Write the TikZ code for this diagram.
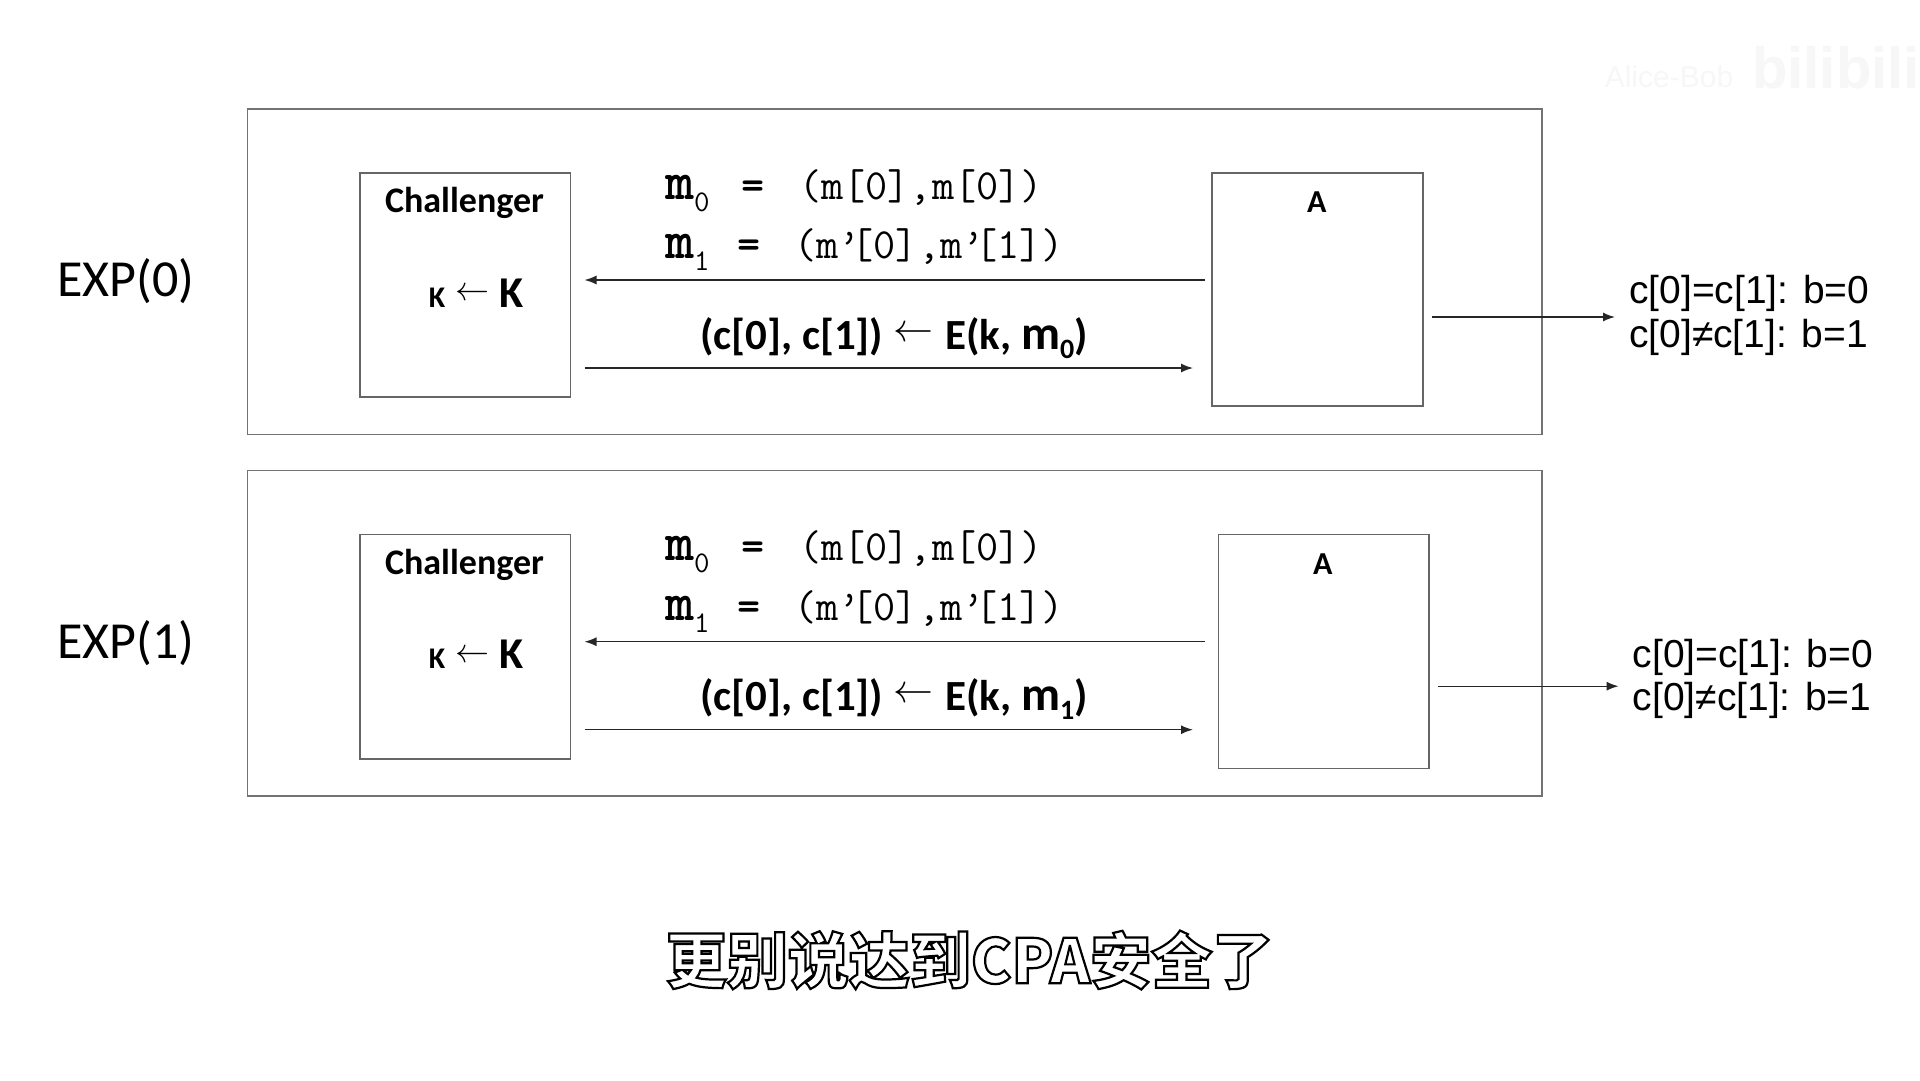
\documentclass[tikz,border=0pt]{standalone}
\usepackage{graphicx}
\usepackage{fontspec}
\setmainfont{Carlito}
\newfontfamily\arialf{Liberation Sans}
\newfontfamily\cjkf{Noto Sans CJK SC}
\usetikzlibrary{arrows.meta}
\newcommand{\fsz}[1]{\fontsize{#1}{#1}\selectfont}
\newcommand{\larr}[1]{\raisebox{0.22em}{\resizebox{#1}{!}{$\leftarrow$}}}
\newcommand{\outlined}[1]{\special{pdf:code 2 Tr 2.2 w 1 g 0 G}#1\special{pdf:code 0 Tr 0 g 0 G}}
\begin{document}
\begin{tikzpicture}[x=1pt,y=-1pt,
  outerbox/.style={draw=black!55, line width=1.8pt, inner sep=0pt, anchor=north west},
  sidebox/.style={draw=black!60, line width=1.5pt, inner sep=0pt, anchor=north west, minimum width=210.6pt},
  arr/.style={draw=black!85, line width=1.4pt, -{Latex[length=12pt,width=9pt]}},
  lbl/.style={inner sep=0pt},
]
\fill[white] (0,0) rectangle (1920,1080);
\useasboundingbox (0,0) rectangle (1920,1080);

% watermark
\node[lbl, text=black!3, font=\arialf\fsz{30}] (wm1) at (1669,77) {Alice-Bob};
\node[lbl, text=black!3, font=\arialf\bfseries\fsz{58}] (wm2) at (1836,68) {bilibili};

\foreach \i/\oy/\ax/\ah/\tx/\oa/\ot/\sl/\sr in
  {0/0/0/232.8/0/317/315.3/6.4/18.4, 1/361.7/6.2/234/3.6/686.2/678.8/12.6/24.6}{
  % outer frame
  \node[outerbox, minimum width=1294.5pt, minimum height=325.7pt] (P\i) at (246.5,107.8+\oy) {};
  \node[lbl, font=\fsz{52}] (E\i) at (125.8,281+\oy) {EXP(\i)};
  % challenger
  \node[sidebox, minimum height=224.2pt] (Ch\i) at (359.2,172.2+\oy) {};
  \node[lbl, font=\bfseries\fsz{36}] (cl\i) at (464.5,203+\oy) {Challenger};
  \node[lbl, anchor=base, font=\bfseries] (kk\i) at (476,307+\oy)
    {{\fsz{30}K}\hspace{10pt}{\fsz{30}\larr{34pt}}\hspace{10pt}{\fsz{44}K}};
  % adversary
  \node[lbl, font=\bfseries\fsz{32}] (al\i) at (1316.7+\ax,202+\oy) {A};
  \node[sidebox, minimum height=\ah pt] (A\i) at (1211.4+\ax,172.2+\oy) {};
  % messages
  \node[lbl, anchor=base west, font=\ttfamily] (mz\i) at (665,199+\oy)
    {\makebox[76pt][l]{{\bfseries\fsz{55}m}\raisebox{-12pt}{\fsz{30}0}}\makebox[58pt][l]{\bfseries\fsz{44}=}{\fsz{43}(m[0],m[0])}};
  \node[lbl, anchor=base west, font=\ttfamily] (mo\i) at (665,258.5+\oy)
    {\makebox[72pt][l]{{\bfseries\fsz{55}m}\raisebox{-12pt}{\fsz{30}1}}\makebox[57pt][l]{\bfseries\fsz{44}=}{\fsz{43}(m’\hspace{-9pt}[0],m’\hspace{-9pt}[1])}};
  \node[lbl, anchor=base, font=\bfseries\fsz{43}] (ct\i) at (894,349+\oy)
    {(c[0], c[1])\hspace{10pt}{\fsz{36}\larr{40pt}}\hspace{12pt}E(k, {\fsz{48}m}\raisebox{-9pt}{\fsz{28}\i})};
  % outputs
  \node[lbl, anchor=west, align=left, font=\arialf\fontsize{39}{43.4}\selectfont] (o\i) at (1629+\tx,\ot) {c[0]=c[1]: b=0\\c[0]≠c[1]: b=1};
  \coordinate (yl\i) at (0,280+\oy);
  \coordinate (yr\i) at (0,368+\oy);
  \coordinate (yo\i) at (0,\oa);
  \draw[arr, shorten <=\sl pt, shorten >=13.2pt] (A\i.west |- yl\i) -- (Ch\i.east |- yl\i);
  \draw[arr, shorten <=13.2pt, shorten >=\sr pt] (Ch\i.east |- yr\i) -- (A\i.west |- yr\i);
  \draw[arr, shorten <=8.7pt, shorten >=14pt] (A\i.east |- yo\i) -- (o\i.west |- yo\i);
}

% subtitle
\node[lbl, font=\cjkf\bfseries\fsz{61}] (sub) at (969.5,960)
  {\outlined{更别说达到CPA安全了}};
\end{tikzpicture}
\end{document}
